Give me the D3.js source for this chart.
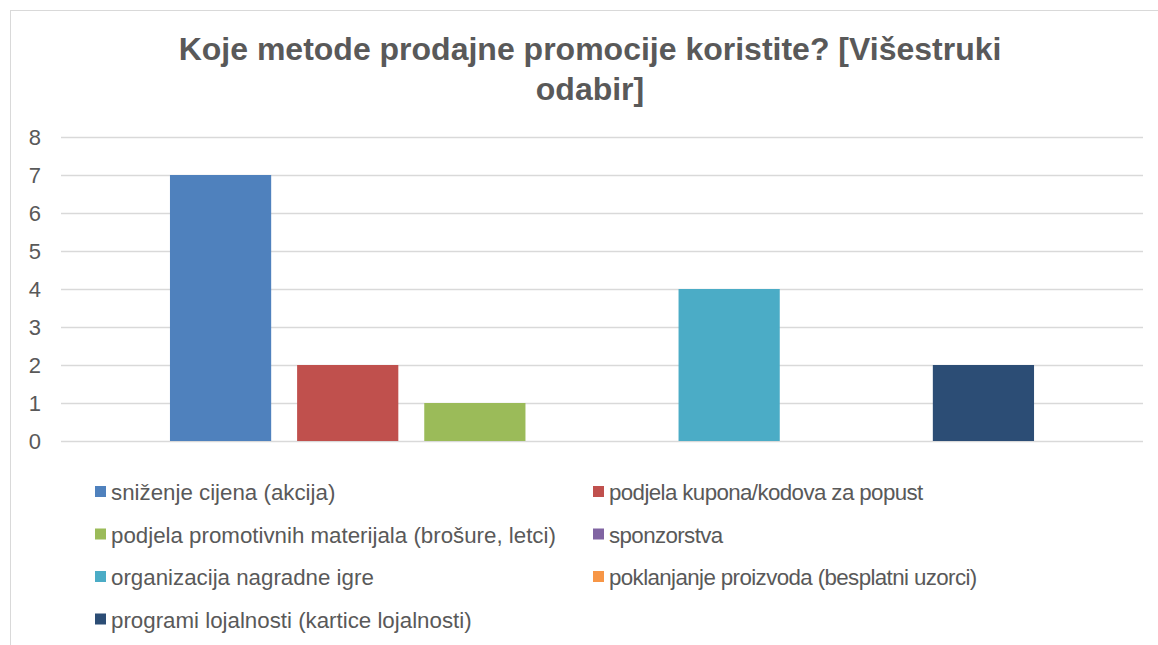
<!DOCTYPE html>
<html>
<head>
  <meta charset="utf-8">
  <title>Koje metode prodajne promocije koristite?</title>
  <script src="https://cdn.jsdelivr.net/npm/d3@7/dist/d3.min.js"></script>
  <style>
    body { margin: 0; background: #fff; }
    text { font-family: "Liberation Sans", Arial, sans-serif; fill: #595959; }
  </style>
</head>
<body>
  <div id="chart"></div>
  <script>
    // one category, seven series (Excel clustered column)
    const series = [
      'sniženje cijena (akcija)',
      'podjela kupona/kodova za popust',
      'podjela promotivnih materijala (brošure, letci)',
      'sponzorstva',
      'organizacija nagradne igre',
      'poklanjanje proizvoda (besplatni uzorci)',
      'programi lojalnosti (kartice lojalnosti)'
    ];
    const values = [7, 2, 1, 0, 4, 0, 2];
    const colors = ['#4F81BD', '#C0504D', '#9BBB59', '#8064A2', '#4BACC6', '#F79646', '#2C4D75'];
    const yTicks = [0, 1, 2, 3, 4, 5, 6, 7, 8];
    const titleLines = ['Koje metode prodajne promocije koristite? [Višestruki', 'odabir]'];

    const W = 1158, H = 645;
    const plot = { left: 61, right: 1143, top: 137, bottom: 441 };

    const svg = d3.select('#chart').append('svg')
      .attr('width', W)
      .attr('height', H);

    // chart area border (only top and left visible in the frame)
    svg.append('rect')
      .attr('x', 10.5).attr('y', 10.5)
      .attr('width', W + 20).attr('height', H + 20)
      .attr('fill', 'none')
      .attr('stroke', '#d9d9d9');

    svg.append('text')
      .attr('text-anchor', 'middle')
      .attr('font-weight', 'bold')
      .attr('font-size', 32)
      .selectAll('tspan')
      .data(titleLines)
      .enter()
      .append('tspan')
      .attr('x', 590)
      .attr('y', (d, i) => 60 + i * 40)
      .text(d => d);

    let x = d3.scaleBand()
      .domain(series)
      .range([plot.left, plot.right])
      .paddingInner(0.204)
      .paddingOuter(0.857);

    let y = d3.scaleLinear()
      .domain([0, 8])
      .range([plot.bottom, plot.top]);

    // gridlines
    svg.append('g')
      .selectAll('line')
      .data(yTicks)
      .enter()
      .append('line')
      .attr('x1', plot.left)
      .attr('x2', plot.right)
      .attr('y1', d => Math.round(y(d)) + 0.5)
      .attr('y2', d => Math.round(y(d)) + 0.5)
      .attr('stroke', '#d9d9d9')
      .attr('stroke-width', 1.5);

    // y axis labels
    const yAxis = svg.append('g')
      .attr('transform', `translate(${plot.left - 20}, 0)`)
      .call(d3.axisLeft(y).tickValues(yTicks).tickSize(0).tickPadding(0));
    yAxis.select('.domain').remove();
    yAxis.selectAll('text')
      .attr('font-size', 22)
      .attr('fill', '#595959')
      .style('font-family', '"Liberation Sans", Arial, sans-serif');

    svg.append('g')
      .selectAll('rect')
      .data(values)
      .enter()
      .append('rect')
      .attr('x', (d, i) => x(series[i]))
      .attr('width', x.bandwidth())
      .attr('y', d => y(d))
      .attr('height', d => y(0) - y(d))
      .attr('fill', (d, i) => colors[i]);

    // legend, two columns
    const legend = svg.append('g')
      .selectAll('g')
      .data(series)
      .enter()
      .append('g')
      .attr('transform', (d, i) => `translate(${i % 2 === 0 ? 95 : 593}, ${492 + Math.floor(i / 2) * 42.5})`);

    legend.append('rect')
      .attr('x', 0).attr('y', -6)
      .attr('width', 11).attr('height', 11)
      .attr('fill', (d, i) => colors[i]);

    legend.append('text')
      .attr('x', 16)
      .attr('y', 8)
      .attr('font-size', 22.3)
      .attr('letter-spacing', (d, i) => i % 2 === 0 ? 0 : -0.6)
      .text(d => d);
  </script>
</body>
</html>
